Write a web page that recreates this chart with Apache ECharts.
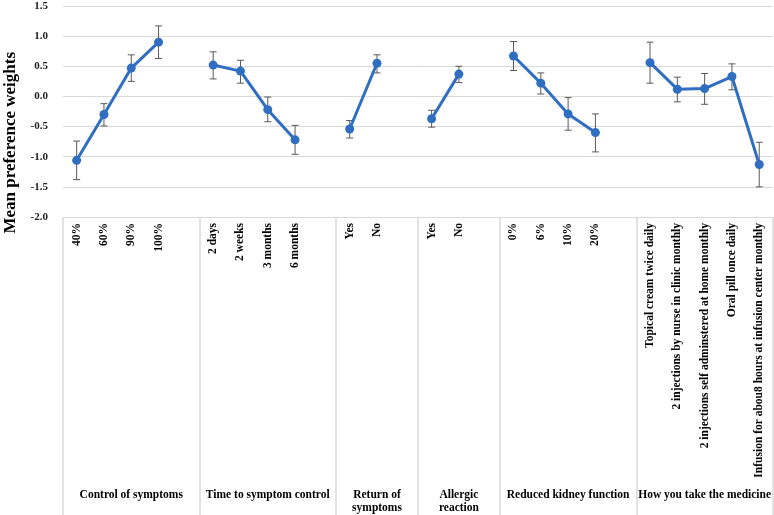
<!DOCTYPE html>
<html><head><meta charset="utf-8">
<script src="https://cdn.jsdelivr.net/npm/echarts@6/dist/echarts.min.js"></script>
<style>html,body{margin:0;padding:0;background:#fff}#c{width:774px;height:515px}</style>
</head><body><div id="c"></div>
<script>
const groups = ['Control of symptoms','Time to symptom control','Return of symptoms','Allergic reaction','Reduced kidney function','How you take the medicine'];
const levels = [
  ['40%','60%','90%','100%'],
  ['2 days','2 weeks','3 months','6 months'],
  ['Yes','No'],
  ['Yes','No'],
  ['0%','6%','10%','20%'],
  ['Topical cream twice daily','2 injections by nurse in clinic monthly','2 injections self adminstered at home monthly','Oral pill once daily','Infusion for abou8 hours at infusion center monthly']
];
const means = [
  [-1.06,-0.30,0.47,0.90],
  [0.52,0.42,-0.22,-0.72],
  [-0.54,0.55],
  [-0.37,0.37],
  [0.67,0.22,-0.29,-0.60],
  [0.56,0.12,0.13,0.33,-1.13]
];
const lowers = [
  [-1.38,-0.49,0.25,0.63],
  [0.29,0.22,-0.42,-0.96],
  [-0.69,0.39],
  [-0.51,0.23],
  [0.43,0.04,-0.56,-0.92],
  [0.22,-0.09,-0.13,0.11,-1.50]
];
const uppers = [
  [-0.74,-0.12,0.69,1.17],
  [0.74,0.60,-0.01,-0.48],
  [-0.40,0.69],
  [-0.23,0.50],
  [0.91,0.39,-0.02,-0.29],
  [0.90,0.32,0.38,0.54,-0.76]
];
const yTicks = {min:-2, max:1.5, interval:0.5};

// build slot layout: each group followed by one blank slot (except the last)
const categories = [], lineData = [], errData = [], groupAxis = [], boundaries = [];
const groupSizes = [];
groups.forEach((g, gi) => {
  const start = categories.length;
  boundaries.push(start);
  levels[gi].forEach((lab, li) => {
    errData.push([categories.length, lowers[gi][li], uppers[gi][li]]);
    categories.push(lab);
    lineData.push(means[gi][li]);
  });
  if (gi < groups.length - 1) { categories.push(''); lineData.push(null); }
  const size = categories.length - start;
  groupSizes.push(size);
  for (let k = start; k < categories.length; k++) groupAxis.push('');
  groupAxis[start + Math.floor(size / 2)] = g;
});
const narrow = {};
groups.forEach((g, gi) => { if (groupSizes[gi] <= 3) narrow[g] = true; });

const font = '"Liberation Serif", "Times New Roman", serif';
const chart = echarts.init(document.getElementById('c'));
chart.setOption({
  animation: false,
  grid: {left: 63, right: -3, top: 6, bottom: 298, containLabel: false},
  xAxis: [{
    type: 'category', data: categories, boundaryGap: true,
    axisLine: {show: true, onZero: false, lineStyle: {color: '#d9d9d9', width: 1}},
    axisTick: {show: true, length: 300, inside: false,
      interval: (i) => boundaries.indexOf(i) >= 0,
      lineStyle: {color: '#d9d9d9', width: 1.5}},
    axisLabel: {interval: 0, rotate: 90, margin: 6, color: '#000', fontFamily: font, fontWeight: 'bold', fontSize: 11.5},
    splitLine: {show: false}
  }, {
    type: 'category', data: groupAxis, position: 'bottom', offset: 270, boundaryGap: true,
    axisLine: {show: false, onZero: false}, axisTick: {show: false}, splitLine: {show: false},
    axisLabel: {interval: 0, margin: 2, color: '#000', fontFamily: font, fontWeight: 'bold', fontSize: 11.5, lineHeight: 13,
      formatter: (v) => {
        if (narrow[v]) { const p = v.lastIndexOf(' '); return v.slice(0, p) + '\n' + v.slice(p + 1); }
        return v;
      }}
  }],
  yAxis: {
    type: 'value', min: yTicks.min, max: yTicks.max, interval: yTicks.interval,
    axisLine: {show: false}, axisTick: {show: false},
    splitLine: {lineStyle: {color: '#d9d9d9', width: 1}},
    axisLabel: {margin: 15, color: '#222', fontFamily: font, fontWeight: 'bold', fontSize: 11,
      formatter: (v) => v.toFixed(1)}
  },
  graphic: [{
    type: 'text', left: 2, top: 52, rotation: Math.PI / 2,
    style: {text: 'Mean preference weights', font: 'bold 17px ' + font, fill: '#000'}
  }],
  series: [{
    type: 'custom', xAxisIndex: 0, data: errData, z: 1,
    renderItem: (params, api) => {
      const x = api.value(0);
      const lo = api.coord([x, api.value(1)]);
      const hi = api.coord([x, api.value(2)]);
      const w = 3.5;
      const st = {stroke: '#595959', lineWidth: 1};
      return {type: 'group', children: [
        {type: 'line', shape: {x1: lo[0], y1: lo[1], x2: hi[0], y2: hi[1]}, style: st},
        {type: 'line', shape: {x1: lo[0] - w, y1: lo[1], x2: lo[0] + w, y2: lo[1]}, style: st},
        {type: 'line', shape: {x1: hi[0] - w, y1: hi[1], x2: hi[0] + w, y2: hi[1]}, style: st}
      ]};
    }
  }, {
    type: 'line', xAxisIndex: 0, data: lineData, connectNulls: false, z: 3,
    symbol: 'circle', symbolSize: 9,
    itemStyle: {color: '#2f6ec1'}, lineStyle: {color: '#2f6ec1', width: 3}
  }]
});
</script></body></html>
